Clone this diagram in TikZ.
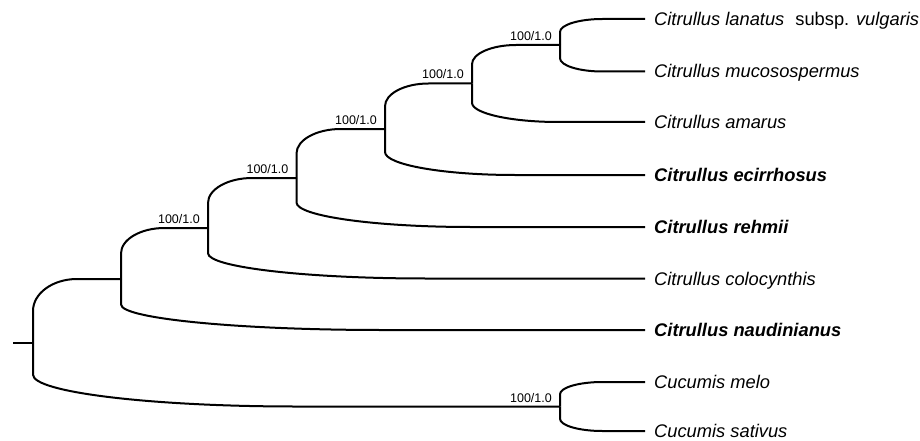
\documentclass[tikz,border=0pt]{standalone}
\usepackage{fontspec}
\setmainfont{Liberation Sans}
\usetikzlibrary{calc}

\tikzset{
  % a branch: half-way vertical, then a quarter-ellipse bend into the horizontal
  branch/.style={to path={let \p1=(\tikztostart), \p2=(\tikztotarget) in
    -- (\x1,{0.5*(\y1+\y2)})
    .. controls (\x1,{0.5*(\y1+\y2)+0.276*(\y2-\y1)}) and ({\x1+0.224*(\x2-\x1)},\y2)
    .. ({0.5*(\x1+\x2)},\y2) -- (\tikztotarget)}},
  tree/.style={line width=2pt, line join=round},
  taxon/.style={anchor=west, inner xsep=9pt, inner ysep=0pt, text height=13pt, text depth=0pt,
    font=\fontsize{18.3}{20}\selectfont\itshape},
  taxonbold/.style={taxon, font=\fontsize{18.3}{20}\selectfont\bfseries\itshape},
  support/.style={anchor=base east, inner sep=0pt, font=\fontsize{12.5}{14}\selectfont}
}

\begin{document}
\begin{tikzpicture}[x=1pt, y=-1pt]
  \useasboundingbox (0,0) rectangle (920,441);

  % internal nodes
  \coordinate (R) at (33,343);
  \coordinate (rt) at (13,343);
  \coordinate (F) at (121,279);
  \coordinate (E) at (208,228);
  \coordinate (D) at (296.5,178);
  \coordinate (C) at (385,129);
  \coordinate (B) at (472,83.5);
  \coordinate (A) at (560,45);
  \coordinate (G) at (560,406.5);

  % taxa
  \node[taxon] (t1) at (645,19) {Citrullus lanatus\hspace{0.6em}\upshape subsp. \itshape vulgaris};
  \node[taxon] (t2) at (645,71.5) {Citrullus mucosospermus};
  \node[taxon] (t3) at (645,122) {Citrullus amarus};
  \node[taxonbold] (t4) at (645,175) {Citrullus ecirrhosus};
  \node[taxonbold] (t5) at (645,227) {Citrullus rehmii};
  \node[taxon] (t6) at (645,278.5) {Citrullus colocynthis};
  \node[taxonbold] (t7) at (645,330) {Citrullus naudinianus};
  \node[taxon] (t8) at (645,382) {Cucumis melo};
  \node[taxon] (t9) at (645,431) {Cucumis sativus};

  % branches
  \draw[tree] (rt) -- (R);
  \draw[tree] (R) to[branch] (F);
  \draw[tree] (R) to[branch] (G);
  \draw[tree] (F) to[branch] (E);
  \draw[tree] (F) to[branch] (t7.west);
  \draw[tree] (E) to[branch] (D);
  \draw[tree] (E) to[branch] (t6.west);
  \draw[tree] (D) to[branch] (C);
  \draw[tree] (D) to[branch] (t5.west);
  \draw[tree] (C) to[branch] (B);
  \draw[tree] (C) to[branch] (t4.west);
  \draw[tree] (B) to[branch] (A);
  \draw[tree] (B) to[branch] (t3.west);
  \draw[tree] (A) to[branch] (t1.west);
  \draw[tree] (A) to[branch] (t2.west);
  \draw[tree] (G) to[branch] (t8.west);
  \draw[tree] (G) to[branch] (t9.west);

  % support values
  \node[support] (sA) at ([shift={(-8,-4.5)}]A) {100/1.0};
  \node[support] (sB) at ([shift={(-8,-4.5)}]B) {100/1.0};
  \node[support] (sC) at ([shift={(-8,-4.5)}]C) {100/1.0};
  \node[support] (sD) at ([shift={(-8,-4.5)}]D) {100/1.0};
  \node[support] (sE) at ([shift={(-8,-4.5)}]E) {100/1.0};
  \node[support] (sG) at ([shift={(-8,-4.5)}]G) {100/1.0};
\end{tikzpicture}
\end{document}
